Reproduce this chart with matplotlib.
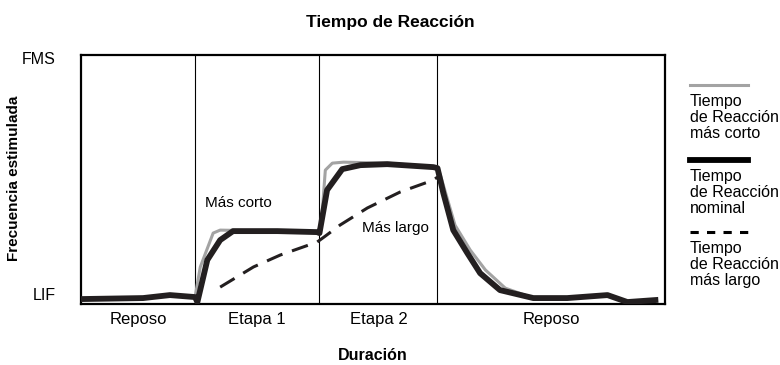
import matplotlib
matplotlib.use("Agg")
import matplotlib.pyplot as plt
from matplotlib.lines import Line2D

plt.rcParams['font.family'] = ['Liberation Sans', 'DejaVu Sans']

# Duration axis runs 0..100, stimulated rate 0 (bottom) .. 100 (FMS)
phase_bounds = [19.5, 40.75, 61.0]
phase_centers = [9.75, 30.1, 50.9, 80.5]
phase_labels = ["Reposo", "Etapa 1", "Etapa 2", "Reposo"]

nominal_x = [0, 10.6, 15.2, 19.5, 19.9, 21.6, 23.8, 26.0, 33.6, 40.4, 40.8, 42.1,
             44.7, 47.8, 52.4, 60.3, 61.0, 62.0, 63.7, 66.1, 68.3, 71.7, 77.4,
             83.2, 90.1, 93.5, 98.3]
nominal_y = [2.0, 2.4, 3.6, 2.8, 0.8, 17.7, 25.7, 29.3, 29.3, 28.9, 28.5, 45.8,
             54.2, 55.8, 56.2, 55.0, 54.6, 44.6, 29.7, 20.5, 12.4, 5.6, 2.4,
             2.4, 3.6, 0.8, 1.6]

short_x = [0, 10.6, 15.2, 19.5, 20.4, 22.6, 23.8, 33.6, 40.4, 41.1, 41.8, 43.0,
           44.9, 52.4, 61.0, 61.5, 64.0, 66.6, 69.2, 72.6, 77.4, 83.2, 90.1,
           93.5, 98.3]
short_y = [2.0, 2.4, 3.6, 2.8, 14.9, 28.5, 29.7, 29.3, 28.9, 31.7, 53.8, 56.6,
           57.0, 56.6, 55.0, 51.8, 31.7, 21.7, 13.7, 6.4, 2.4, 2.4, 3.6,
           0.8, 1.6]

long_x = [23.8, 29.5, 34.1, 40.4, 41.8, 44.3, 49.0, 54.6, 60.3, 61.0]
long_y = [6.8, 14.9, 19.7, 24.9, 27.3, 31.7, 38.6, 45.0, 49.8, 51.0]

y_ticks = [4, 98.8]
y_tick_labels = ["LIF", "FMS"]

C_SHORT = "#a3a3a3"
C_NOM = "#231f20"

fig = plt.figure(figsize=(7.8, 3.65), dpi=100)
ax = fig.add_axes([0.104, 0.167, 0.749, 0.682])
ax.set_xlim(0, 100)
ax.set_ylim(0, 100)

for b in phase_bounds:
    ax.axvline(b, color="black", lw=0.8, zorder=1)

ax.plot(short_x, short_y, color=C_SHORT, lw=2.2, solid_joinstyle="round", zorder=2)
ax.plot(nominal_x, nominal_y, color=C_NOM, lw=4.2, solid_joinstyle="round", zorder=3)
ax.plot(long_x, long_y, color=C_NOM, lw=2.2, dashes=(5.5, 3.3), zorder=3)

ax.text(21.2, 40.6, "Más corto", fontsize=11, va="center", ha="left")
ax.text(48.1, 30.5, "Más largo", fontsize=11, va="center", ha="left")

ax.set_xticks(phase_centers)
ax.set_xticklabels(phase_labels, fontsize=12)
ax.set_yticks(y_ticks)
ax.set_yticklabels(y_tick_labels, fontsize=11.5)
ax.tick_params(axis="x", length=0, pad=6)
ax.tick_params(axis="y", length=0, pad=18)
for s in ax.spines.values():
    s.set_linewidth(1.6)

fig.text(390 / 780, 1 - 22 / 365, "Tiempo de Reacción", fontsize=12.5, fontweight="bold",
         ha="center", va="center")
ax.set_xlabel("Duración", fontsize=11.5, fontweight="bold", labelpad=15)
fig.text(14 / 780, 1 - 178 / 365, "Frecuencia estimulada", fontsize=11, fontweight="bold",
         rotation=90, ha="center", va="center")

# legend drawn by hand: sample line above multi-line text
legend = [
    (dict(color=C_SHORT, lw=2.2), "Tiempo\nde Reacción\nmás corto", 85),
    (dict(color="black", lw=4.2), "Tiempo\nde Reacción\nnominal", 160),
    (dict(color="black", lw=2.2, dashes=(2.7, 2.7)), "Tiempo\nde Reacción\nmás largo", 232),
]
for style, label, ypx in legend:
    yf = 1 - ypx / 365
    fig.add_artist(Line2D([690 / 780, 748 / 780], [yf, yf], transform=fig.transFigure, **style))
    fig.text(690 / 780, 1 - (ypx + 9) / 365, label, fontsize=11.5, va="top", ha="left",
             linespacing=1.1)

fig.savefig("out.png", dpi=100)
